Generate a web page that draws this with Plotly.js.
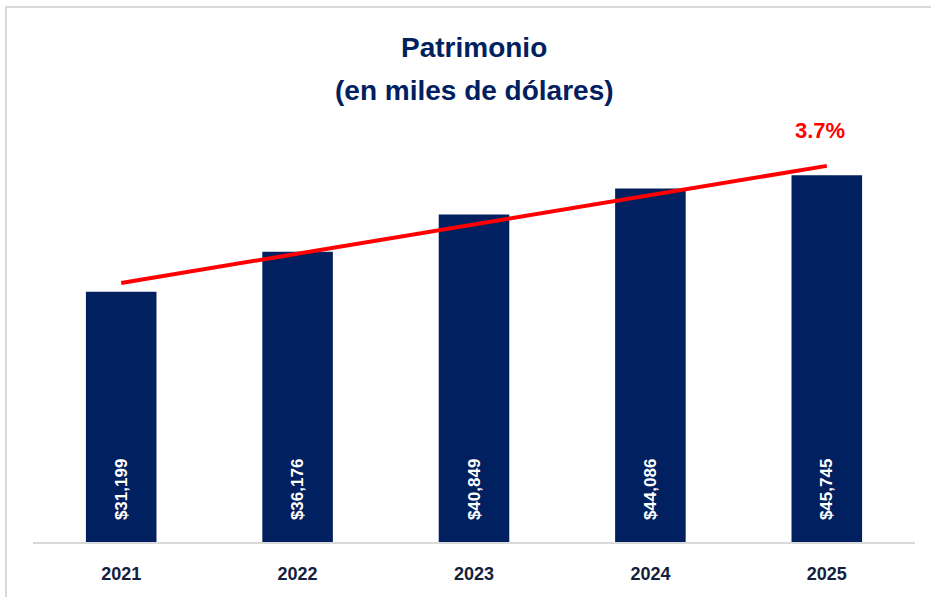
<!DOCTYPE html>
<html>
<head>
<meta charset="utf-8">
<script src="https://cdn.plot.ly/plotly-3.0.1.min.js"></script>
<style>
html,body{margin:0;padding:0;background:#fff;overflow:hidden;}
#chart{width:931px;height:597px;}
</style>
</head>
<body>
<div id="chart"></div>
<script>
const years = ['2021', '2022', '2023', '2024', '2025'];
const patrimonio = [31199, 36176, 40849, 44086, 45745];
const barLabels = ['$31,199', '$36,176', '$40,849', '$44,086', '$45,745'];
const trendYears = ['2021', '2025'];
const trendValues = [32300, 46900];
const growthLabel = '3.7%';
const titleLines = ['Patrimonio', '(en miles de dólares)'];

const navy = '#002060';
const fam = 'Liberation Sans, Arial, sans-serif';

const bars = {
  type: 'bar',
  x: years,
  y: patrimonio,
  text: barLabels,
  texttemplate: '\u00a0\u00a0\u00a0\u00a0<b>%{text}</b>',
  textposition: 'inside',
  insidetextanchor: 'start',
  textangle: -90,
  insidetextfont: {family: fam, size: 17, color: '#ffffff'},
  marker: {color: navy},
  hoverinfo: 'none'
};

const trend = {
  type: 'scatter',
  mode: 'lines',
  x: trendYears,
  y: trendValues,
  line: {color: '#ff0000', width: 4},
  hoverinfo: 'none',
  cliponaxis: false
};

const layout = {
  width: 931,
  height: 597,
  margin: {l: 33, r: 16, t: 141, b: 55},
  paper_bgcolor: '#ffffff',
  plot_bgcolor: '#ffffff',
  showlegend: false,
  bargap: 0.6,
  xaxis: {
    type: 'category',
    categoryorder: 'array',
    categoryarray: years,
    range: [-0.5, 4.5],
    autorange: false,
    showgrid: false,
    zeroline: false,
    showline: true,
    linecolor: '#d9d9d9',
    linewidth: 2,
    ticks: '',
    ticklabelstandoff: 14,
    tickfont: {family: fam, size: 18, color: '#14213d'},
    tickprefix: '<b>',
    ticksuffix: '</b>'
  },
  yaxis: {
    range: [0, 50000],
    autorange: false,
    showgrid: false,
    zeroline: false,
    showline: false,
    showticklabels: false,
    ticks: ''
  },
  annotations: [
    {
      x: 0.5, y: (542 - 48) / 401, xref: 'paper', yref: 'paper',
      text: '<b>' + titleLines[0] + '</b>', showarrow: false,
      xanchor: 'center', yanchor: 'middle',
      font: {family: fam, size: 28, color: navy}
    },
    {
      x: 0.5, y: (542 - 90) / 401, xref: 'paper', yref: 'paper',
      text: '<b>' + titleLines[1] + '</b>', showarrow: false,
      xanchor: 'center', yanchor: 'middle',
      font: {family: fam, size: 28, color: navy}
    },
    {
      x: years.indexOf(trendYears[1]),
      y: trendValues[1],
      xref: 'x',
      yref: 'y',
      text: '<b>' + growthLabel + '</b>',
      showarrow: false,
      yanchor: 'bottom',
      xanchor: 'center',
      xshift: -7,
      yshift: 21,
      font: {family: fam, size: 22, color: '#ff0000'}
    }
  ],
  shapes: [{
    type: 'rect',
    xref: 'paper',
    yref: 'paper',
    x0: (6 - 33) / 882,
    x1: 1.2,
    y0: -0.5,
    y1: (542 - 7) / 401,
    line: {color: '#d9d9d9', width: 2},
    fillcolor: 'rgba(0,0,0,0)',
    layer: 'below'
  }]
};

Plotly.newPlot('chart', [bars, trend], layout, {displayModeBar: false, staticPlot: true});
</script>
</body>
</html>
